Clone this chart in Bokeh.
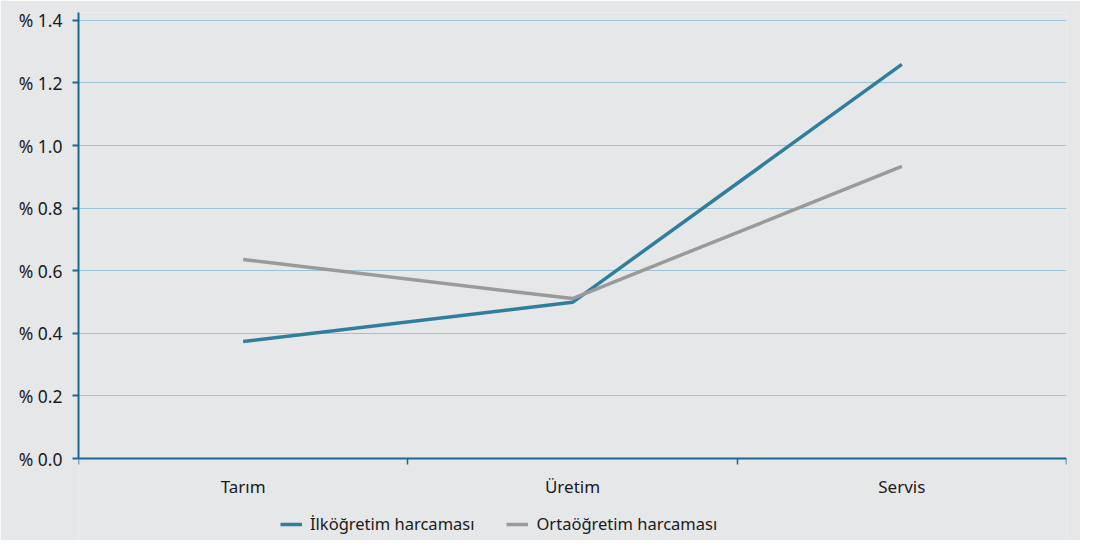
from bokeh.plotting import figure
from bokeh.models import FixedTicker, Legend, LegendItem, Range1d
from bokeh.embed import file_html
from bokeh.resources import INLINE

categories = ["Tarım", "Üretim", "Servis"]
ilkogretim = [0.374, 0.499, 1.259]
ortaogretim = [0.636, 0.511, 0.933]
series_names = ["İlköğretim harcaması", "Ortaöğretim harcaması"]
y_ticks = [0.0, 0.2, 0.4, 0.6, 0.8, 1.0, 1.2, 1.4]
y_tick_labels = ["% 0.0", "% 0.2", "% 0.4", "% 0.6", "% 0.8", "% 1.0", "% 1.2", "% 1.4"]

BG = "#e6e7e9"
AXIS = "#1b6890"
GRID = "#9cc4d6"
BLUE = "#2f7f9c"
GREY = "#9a9a9a"
FONT = "Noto Sans"

xs = [i + 0.5 for i in range(len(categories))]

Y_TOP = 1.425
Y_BOTTOM = -(528 - 446) * Y_TOP / 446  # room under the x axis for labels and legend

p = figure(frame_width=988, frame_height=528, output_backend="svg", toolbar_location=None,
           x_range=Range1d(0, len(categories)), y_range=Range1d(Y_BOTTOM, Y_TOP),
           min_border_left=78, min_border_right=14, min_border_top=12, min_border_bottom=0)
p.background_fill_color = BG
p.border_fill_color = BG
p.outline_line_color = None

r1 = p.line(xs, ilkogretim, line_color=BLUE, line_width=3.5)
r2 = p.line(xs, ortaogretim, line_color=GREY, line_width=3.5)

# y axis
p.yaxis.ticker = FixedTicker(ticks=y_ticks)
p.yaxis.bounds = (0, Y_TOP)
p.yaxis.major_label_overrides = {t: l for t, l in zip(y_ticks, y_tick_labels)}
p.yaxis.axis_line_color = AXIS
p.yaxis.axis_line_width = 2
p.yaxis.major_tick_line_color = AXIS
p.yaxis.major_tick_line_width = 2
p.yaxis.major_tick_in = 0
p.yaxis.major_tick_out = 6
p.yaxis.minor_tick_line_color = None
p.yaxis.major_label_text_font = FONT
p.yaxis.major_label_text_font_size = "17.5px"
p.yaxis.major_label_text_color = "#1a1a1a"
p.yaxis.major_label_standoff = 10

# x axis: labels at category centers, ticks at category boundaries
p.xaxis.fixed_location = 0
p.xaxis.ticker = FixedTicker(ticks=xs, minor_ticks=list(range(len(categories) + 1)))
p.xaxis.major_label_overrides = {x: c for x, c in zip(xs, categories)}
p.xaxis.axis_line_color = AXIS
p.xaxis.axis_line_width = 2
p.xaxis.major_tick_line_color = None
p.xaxis.minor_tick_line_color = AXIS
p.xaxis.minor_tick_line_width = 1.5
p.xaxis.minor_tick_in = 0
p.xaxis.minor_tick_out = 6
p.xaxis.major_label_text_font = FONT
p.xaxis.major_label_text_font_size = "17px"
p.xaxis.major_label_text_color = "#1a1a1a"
p.xaxis.major_label_standoff = 10

p.xgrid.grid_line_color = None
p.ygrid.grid_line_color = GRID
p.ygrid.grid_line_width = 1

legend = Legend(items=[LegendItem(label=series_names[0], renderers=[r1]),
                       LegendItem(label=series_names[1], renderers=[r2])],
                orientation="horizontal", location=(202, 5))
legend.background_fill_alpha = 0
legend.border_line_color = None
legend.label_text_font = FONT
legend.label_text_font_size = "16.5px"
legend.label_text_color = "#1a1a1a"
legend.glyph_width = 22
legend.label_standoff = 8
legend.spacing = 32
legend.padding = 4
legend.margin = 0
p.add_layout(legend, "center")

open("out.html", "w").write(file_html(p, INLINE))
